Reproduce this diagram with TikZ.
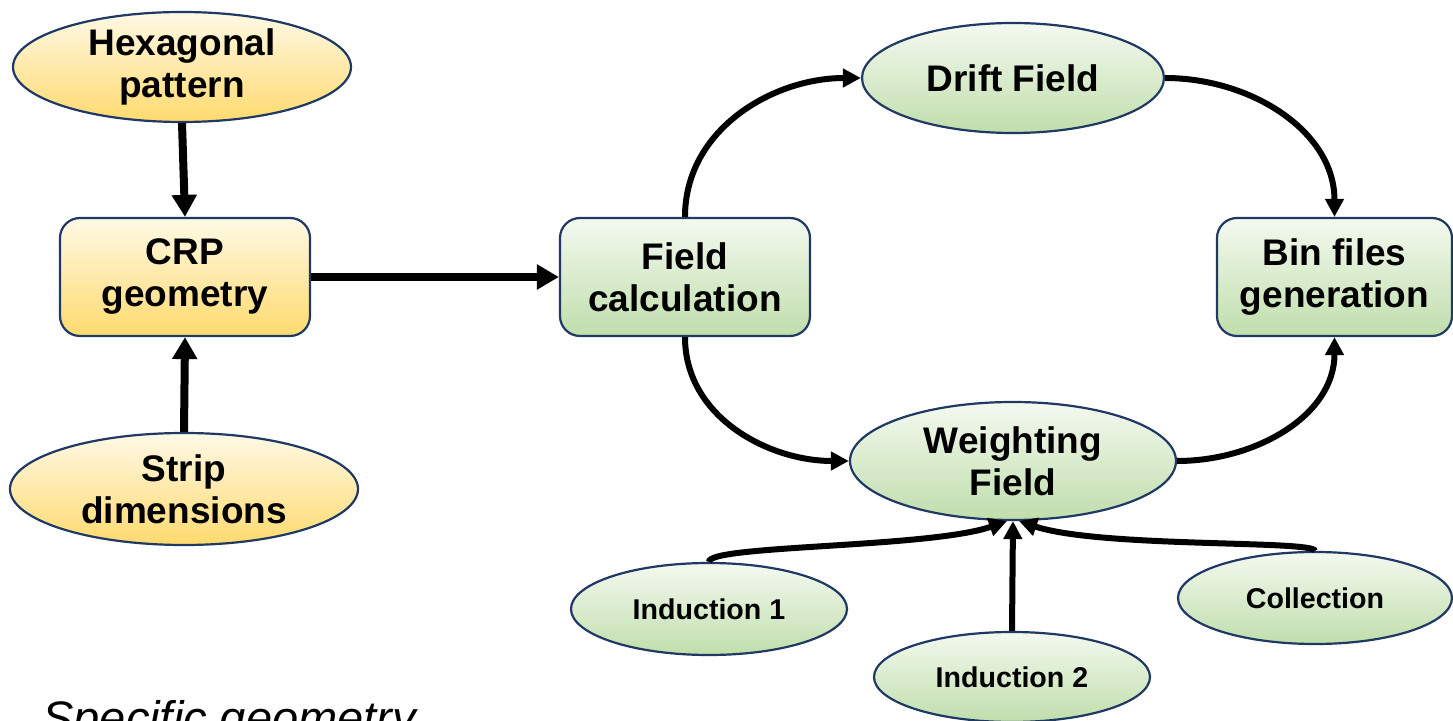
\documentclass[tikz,border=0pt]{standalone}
\usepackage{fontspec}
\setmainfont{Liberation Sans}
\usetikzlibrary{shapes.geometric,arrows.meta}
\definecolor{navy}{RGB}{31,56,100}
\definecolor{ytop}{RGB}{255,249,230}
\definecolor{ybot}{RGB}{255,218,110}
\definecolor{gtop}{RGB}{244,249,240}
\definecolor{gbot}{RGB}{192,222,172}
\tikzset{
  ybox/.style={draw=navy,line width=1.1pt,rounded corners=10pt,top color=ytop,bottom color=ybot,
    minimum width=125pt,minimum height=59pt,inner sep=0pt,align=center,font=\bfseries\fontsize{18.5}{21}\selectfont},
  gbox/.style={ybox,top color=gtop,bottom color=gbot},
  yell/.style={ellipse,draw=navy,line width=1.1pt,top color=ytop,bottom color=ybot,inner sep=0pt,align=center,
    font=\bfseries\fontsize{18.5}{21}\selectfont},
  gell/.style={yell,top color=gtop,bottom color=gbot},
  sell/.style={gell,font=\bfseries\fontsize{14.3}{17}\selectfont},
  thick arrow/.style={line width=4pt,-{Triangle[length=11pt,width=12pt]}},
  curve arrow/.style={line width=3pt,-{Triangle[length=9pt,width=9pt]}},
}
\begin{document}
\begin{tikzpicture}[x=0.5pt,y=-0.5pt]
\useasboundingbox (0,0) rectangle (1453,721);
\clip (0,0) rectangle (1453,721);
\node[yell,minimum width=169pt,minimum height=55pt] (hex) at (182,67) {Hexagonal\\pattern};
\node[ybox] (crp) at (185,277) {CRP\\geometry};
\node[yell,minimum width=174pt,minimum height=56pt] (strip) at (184,489) {Strip\\dimensions};
\node[gbox] (field) at (685,277) {Field\\calculation};
\node[gell,minimum width=151pt,minimum height=55pt] (drift) at (1013,78) {Drift Field};
\node[gbox,minimum width=117.5pt] (bin) at (1334.5,277) {Bin files\\generation};
\node[gell,minimum width=163pt,minimum height=59pt] (weight) at (1013,461) {Weighting\\Field};
\node[sell,minimum width=138pt,minimum height=46pt] (ind1) at (709,609) {Induction 1};
\node[sell,minimum width=138pt,minimum height=45pt] (ind2) at (1012,677) {Induction 2};
\node[sell,minimum width=137pt,minimum height=46pt] (coll) at (1315,598) {Collection};
\node[anchor=base west,inner sep=0pt,font=\itshape\fontsize{23.5}{28}\selectfont] (spec) at (42,735) {Specific geometry};

\draw[thick arrow] (hex.south) -- (crp.north);
\draw[thick arrow] (strip.north) -- (crp.north |- crp.south);
\draw[thick arrow] (crp.east) -- (field.west);
\draw[curve arrow] (field.north) to[out=90,in=180] (drift.west);
\draw[curve arrow] (drift.east) to[out=0,in=90] (bin.north);
\draw[curve arrow] (field.south) to[out=-90,in=180] (weight.west);
\draw[curve arrow] (weight.east) to[out=0,in=-90] (bin.south);
\coordinate (wl) at ([xshift=-3pt]weight.south);
\coordinate (wr) at ([xshift=3pt]weight.south);
\draw[curve arrow] (ind1.north) .. controls (707,545) and (930,548) .. (wl);
\draw[curve arrow] (ind2.north) -- (weight.south);
\draw[curve arrow] (coll.north) .. controls (1315,540) and (1100,548) .. (wr);
\end{tikzpicture}
\end{document}
